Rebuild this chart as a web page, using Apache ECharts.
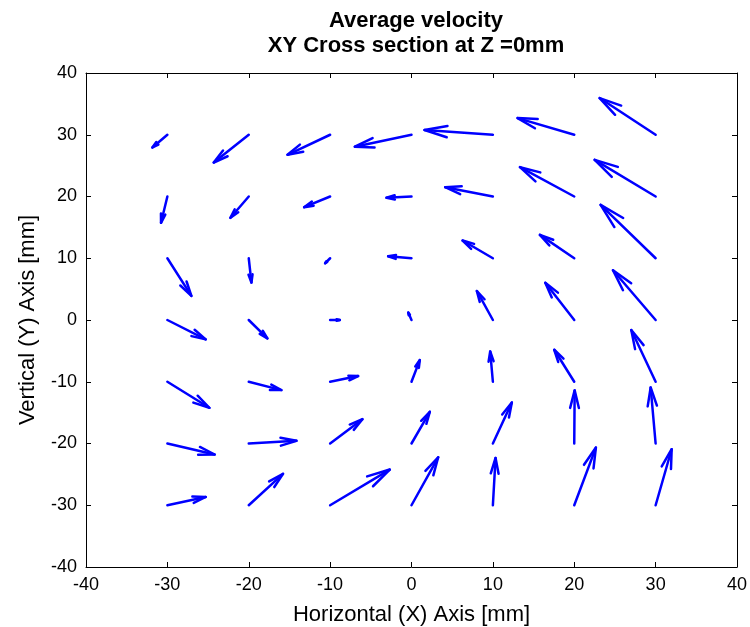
<!DOCTYPE html>
<html>
<head>
<meta charset="utf-8">
<script src="https://cdn.jsdelivr.net/npm/echarts@6/dist/echarts.min.js"></script>
<style>
html,body{margin:0;padding:0;background:#fff;}
#chart{width:750px;height:627px;}
</style>
</head>
<body>
<div id="chart"></div>
<script>
// Grid positions (mm)
var xPositions = [-30, -20, -10, 0, 10, 20, 30];
var yPositions = [30, 20, 10, 0, -10, -20, -30];
// Velocity components, one row per yPosition, one column per xPosition
var uRows = [
  [-1.84, -4.30, -5.24, -6.96, -8.40, -6.96, -6.88],
  [-0.78, -2.25, -3.19, -3.07, -5.86, -6.67, -7.49],
  [ 2.95,  0.33, -0.61, -2.87, -3.72, -4.22, -6.76],
  [ 4.71,  2.29,  1.19, -0.40, -1.97, -3.56, -5.24],
  [ 5.16,  4.01,  3.44,  1.02, -0.33, -2.46, -2.99],
  [ 5.81,  5.86,  3.97,  2.25,  2.33,  0.05, -0.61],
  [ 4.71,  4.21,  7.33,  3.28,  0.33,  2.66,  1.97]
];
var vRows = [
  [-2.06, -4.50, -3.24, -1.94,  0.76,  2.70,  5.94],
  [-4.26, -3.45, -1.73, -0.21,  1.51,  4.75,  5.94],
  [-6.10, -3.94, -0.81,  0.32,  2.87,  3.78,  8.64],
  [-3.13, -2.97,  0.00,  1.20,  4.70,  6.04,  8.05],
  [-4.21, -1.35,  0.92,  3.51,  4.91,  5.18,  8.37],
  [-1.78,  0.43,  3.94,  5.13,  6.64,  8.60,  9.07],
  [ 1.35,  5.08,  5.78,  7.77,  7.66,  9.34,  9.07]
];
var xTicks = [-40, -30, -20, -10, 0, 10, 20, 30, 40];
var yTicks = [-40, -30, -20, -10, 0, 10, 20, 30, 40];

var quiverData = [];
for (var r = 0; r < yPositions.length; r++) {
  for (var c = 0; c < xPositions.length; c++) {
    quiverData.push([xPositions[c], yPositions[r], uRows[r][c], vRows[r][c]]);
  }
}

var chart = echarts.init(document.getElementById('chart'));
var FONT = 'Liberation Sans, Arial, sans-serif';

function renderArrow(params, api) {
  var x = api.value(0), y = api.value(1), u = api.value(2), v = api.value(3);
  var p0 = api.coord([x, y]);
  var p1 = api.coord([x + u, y + v]);
  var dx = p1[0] - p0[0], dy = p1[1] - p0[1];
  var alpha = 0.33, beta = 0.25;
  var b1 = [p1[0] - alpha * (dx + beta * dy), p1[1] - alpha * (dy - beta * dx)];
  var b2 = [p1[0] - alpha * (dx - beta * dy), p1[1] - alpha * (dy + beta * dx)];
  var style = {stroke: '#0000ff', lineWidth: 2.5, fill: null, lineCap: 'round', lineJoin: 'round'};
  return {
    type: 'group',
    children: [
      {type: 'polyline', shape: {points: [p0, p1]}, style: style},
      {type: 'polyline', shape: {points: [b1, p1, b2]}, style: style}
    ]
  };
}

var axisCommon = {
  min: -40, max: 40, interval: 10,
  axisLine: {show: true, onZero: false, lineStyle: {color: '#000', width: 1}},
  axisTick: {show: true, inside: true, length: 5, lineStyle: {color: '#000'}},
  splitLine: {show: false}
};

var option = {
  backgroundColor: '#fff',
  animation: false,
  title: [
    {text: 'Average velocity', left: 411, top: 5, textAlign: 'center',
     textStyle: {fontFamily: FONT, fontWeight: 'bold', fontSize: 22, color: '#000'}},
    {text: 'XY Cross section at Z =0mm', left: 411, top: 30, textAlign: 'center',
     textStyle: {fontFamily: FONT, fontWeight: 'bold', fontSize: 22, color: '#000'}}
  ],
  grid: {left: 86, right: 13, top: 73, bottom: 60, containLabel: false, outerBoundsMode: 'none'},
  xAxis: [
    Object.assign({}, axisCommon, {
      type: 'value', position: 'bottom',
      name: 'Horizontal (X) Axis [mm]', nameLocation: 'middle', nameGap: 37,
      nameTextStyle: {fontFamily: FONT, fontSize: 22, color: '#000'},
      axisLabel: {fontFamily: FONT, fontSize: 18, color: '#000', margin: 9,
        formatter: function (v) { return xTicks.indexOf(v) >= 0 ? String(v) : ''; }}
    }),
    Object.assign({}, axisCommon, {
      type: 'value', position: 'top', axisLabel: {show: false}
    })
  ],
  yAxis: [
    Object.assign({}, axisCommon, {
      type: 'value', position: 'left',
      name: 'Vertical (Y) Axis [mm]', nameLocation: 'middle', nameGap: 47,
      nameTextStyle: {fontFamily: FONT, fontSize: 22, color: '#000'},
      axisLabel: {fontFamily: FONT, fontSize: 18, color: '#000', margin: 9,
        formatter: function (v) { return yTicks.indexOf(v) >= 0 ? String(v) : ''; }}
    }),
    Object.assign({}, axisCommon, {
      type: 'value', position: 'right', axisLabel: {show: false}
    })
  ],
  series: [{
    type: 'custom',
    xAxisIndex: 0, yAxisIndex: 0,
    renderItem: renderArrow,
    data: quiverData,
    clip: false,
    silent: true
  }]
};
chart.setOption(option);
</script>
</body>
</html>
